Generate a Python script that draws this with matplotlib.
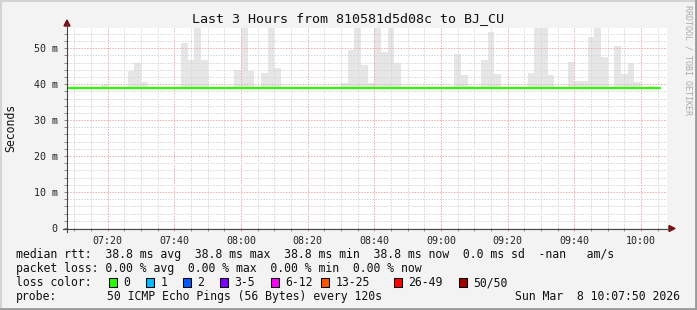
import matplotlib
matplotlib.use("Agg")
import matplotlib.pyplot as plt
from matplotlib.patches import Rectangle, Polygon
from matplotlib.lines import Line2D
from matplotlib.ticker import FixedLocator, FuncFormatter

# ---------------- data ----------------
title = "Last 3 Hours from 810581d5d08c to BJ_CU"
x_start = "07:07:50"
x_end = "10:07:50"

smoke_start = ["07:18", "07:26", "07:28", "07:30", "07:42", "07:44", "07:46", "07:48",
               "07:58", "08:00", "08:02", "08:06", "08:08", "08:10", "08:30", "08:32",
               "08:34", "08:36", "08:38", "08:40", "08:42", "08:44", "08:46", "09:04",
               "09:06", "09:08", "09:12", "09:14", "09:16", "09:26", "09:28", "09:30",
               "09:32", "09:38", "09:40", "09:42", "09:44", "09:46", "09:48", "09:52",
               "09:54", "09:56", "09:58", "10:02"]
smoke_top = [39.7, 43.7, 45.9, 40.6, 51.5, 46.7, 56.0, 46.7,
             43.9, 56.0, 43.7, 43.1, 56.0, 44.4, 40.4, 49.4,
             56.0, 45.3, 40.3, 56.0, 48.8, 56.0, 46.0, 48.3,
             42.5, 39.5, 46.7, 54.4, 42.8, 43.2, 56.0, 56.0,
             42.5, 46.1, 40.9, 41.0, 53.1, 56.0, 47.4, 50.5,
             42.8, 45.9, 40.7, 39.5]
smoke_step_min = 2

median_times = ["07:06", "10:06"]
median_values = [38.8, 38.8]

y_ticks = [0, 10, 20, 30, 40, 50]
y_tick_labels = ["0", "10 m", "20 m", "30 m", "40 m", "50 m"]
x_tick_labels = ["07:20", "07:40", "08:00", "08:20", "08:40", "09:00", "09:20", "09:40", "10:00"]

legend_rtt = "median rtt:  38.8 ms avg  38.8 ms max  38.8 ms min  38.8 ms now  0.0 ms sd  -nan   am/s"
legend_loss = "packet loss: 0.00 % avg  0.00 % max  0.00 % min  0.00 % now"
loss_labels = ["0", "1", "2", "3-5", "6-12", "13-25", "26-49", "50/50"]
loss_colors = ["#26ff00", "#00b8ff", "#0059ff", "#7e00ff", "#ff00ff", "#ff5500", "#ff0000", "#a10000"]
probe_text = "50 ICMP Echo Pings (56 Bytes) every 120s"
date_text = "Sun Mar  8 10:07:50 2026"
watermark = "RRDTOOL / TOBI OETIKER"


def tmin(s):
    parts = [int(p) for p in s.split(":")]
    v = parts[0] * 60 + parts[1]
    if len(parts) > 2:
        v += parts[2] / 60.0
    return v


# ---------------- figure ----------------
W, H = 697, 310
BG = "#f3f3f3"
MONO = "DejaVu Sans Mono"
fig = plt.figure(figsize=(W / 100, H / 100), dpi=100, facecolor=BG)


def fx(px):
    return px / W


def fy(py):
    return 1 - py / H


L, R, T, B = 67, 667, 28, 228
ax = fig.add_axes([fx(L), fy(B), (R - L) / W, (B - T) / H])
ax.set_facecolor("white")

x0, x1 = tmin(x_start), tmin(x_end)
ax.set_xlim(x0, x1)
ax.set_ylim(0, 55.6)

# smoke
sx = [tmin(s) for s in smoke_start]
sh = [t - median_values[0] for t in smoke_top]
ax.bar(sx, sh, width=smoke_step_min, bottom=median_values[0], align="edge",
       color="#e6e6e6", linewidth=0, zorder=1)

# median line
ax.plot([tmin(t) for t in median_times], median_values, color="#26ff00",
        linewidth=1.6, zorder=4, solid_capstyle="butt")

# grid
ax.yaxis.set_major_locator(FixedLocator(y_ticks))
ax.yaxis.set_minor_locator(FixedLocator([v for v in range(0, 56, 2) if v % 10]))
ax.yaxis.set_major_formatter(FuncFormatter(lambda v, p: y_tick_labels[y_ticks.index(int(round(v)))] if int(round(v)) in y_ticks else ""))
xt = [tmin(s) for s in x_tick_labels]
ax.xaxis.set_major_locator(FixedLocator(xt))
ax.xaxis.set_minor_locator(FixedLocator([m for m in range(430, 608, 5) if m not in xt]))
ax.xaxis.set_major_formatter(FuncFormatter(lambda v, p: "%02d:%02d" % (int(round(v)) // 60, int(round(v)) % 60)))

ax.set_axisbelow(False)
ax.grid(which="minor", color="#d6d6d6", linestyle=(0, (1.4, 1.4)), linewidth=0.72, zorder=2)
ax.grid(which="major", color="#ebabab", linestyle=(0, (1.4, 1.4)), linewidth=0.72, zorder=2)

ax.tick_params(axis="both", which="both", direction="out", length=2.2, width=0.7,
               color="#888888", labelsize=7.2, labelcolor="#222222")
ax.tick_params(axis="y", which="major", pad=4.5)
ax.tick_params(axis="x", which="major", pad=3.5, color="#e08080")
for lab in ax.get_xticklabels() + ax.get_yticklabels():
    lab.set_family(MONO)

for sp in ax.spines.values():
    sp.set_visible(False)

# axis lines with arrows (figure pixel coords)
axc = "#444444"
fig.add_artist(Line2D([fx(63), fx(670)], [fy(B + 0.5), fy(B + 0.5)], color=axc, linewidth=0.8))
fig.add_artist(Line2D([fx(L), fx(L)], [fy(232), fy(24)], color=axc, linewidth=0.8))
arrow_c = "#7a1010"
fig.add_artist(Polygon([[fx(L - 3), fy(26)], [fx(L + 3), fy(26)], [fx(L), fy(20)]],
                       closed=True, color=arrow_c, transform=fig.transFigure))
fig.add_artist(Polygon([[fx(669), fy(B - 2.5)], [fx(669), fy(B + 3.5)], [fx(675), fy(B + 0.5)]],
                       closed=True, color=arrow_c, transform=fig.transFigure))

# title, labels
fig.text(fx(348), fy(19), title, family=MONO, fontsize=9.6, ha="center", va="center", color="#111111")
fig.text(fx(11), fy(128), "Seconds", family=MONO, fontsize=8.3, rotation=90,
         ha="center", va="center", color="#111111")
fig.text(fx(688), fy(5), watermark, family=MONO, fontsize=6, rotation=-90,
         ha="center", va="top", color="#aaaaaa")

# legend block
LS = 8.3
TXT = "#111111"
fig.text(fx(16), fy(254.5), legend_rtt, family=MONO, fontsize=LS, va="center", color=TXT)
fig.text(fx(16), fy(268.5), legend_loss, family=MONO, fontsize=LS, va="center", color=TXT)
fig.text(fx(16), fy(282.5), "loss color:", family=MONO, fontsize=LS, va="center", color=TXT)
box_x = [108.5, 145.5, 182.5, 219.5, 270.5, 320.5, 393.5, 458.5]
for bx, lab, col in zip(box_x, loss_labels, loss_colors):
    fig.add_artist(Rectangle((fx(bx), fy(287)), 8 / W, 9 / H, transform=fig.transFigure,
                             facecolor=col, edgecolor="black", linewidth=0.75))
    fig.text(fx(bx + 15), fy(282.5), lab, family=MONO, fontsize=LS, va="center", color=TXT)
fig.text(fx(16), fy(296.5), "probe:", family=MONO, fontsize=LS, va="center", color=TXT)
fig.text(fx(107.3), fy(296.5), probe_text, family=MONO, fontsize=LS, va="center", color=TXT)
fig.text(fx(680), fy(296.5), date_text, family=MONO, fontsize=LS, va="center", ha="right", color=TXT)

# 3D-ish frame
fig.add_artist(Line2D([0, 1], [fy(0.5), fy(0.5)], color="#d4d4d4", linewidth=1.5))
fig.add_artist(Line2D([fx(0.5), fx(0.5)], [0, 1], color="#d4d4d4", linewidth=1.5))
fig.add_artist(Line2D([0, 1], [fy(H - 1), fy(H - 1)], color="#9a9a9a", linewidth=2))
fig.add_artist(Line2D([fx(W - 1), fx(W - 1)], [0, 1], color="#9a9a9a", linewidth=2))

fig.savefig("out.png", dpi=100, facecolor=BG)
